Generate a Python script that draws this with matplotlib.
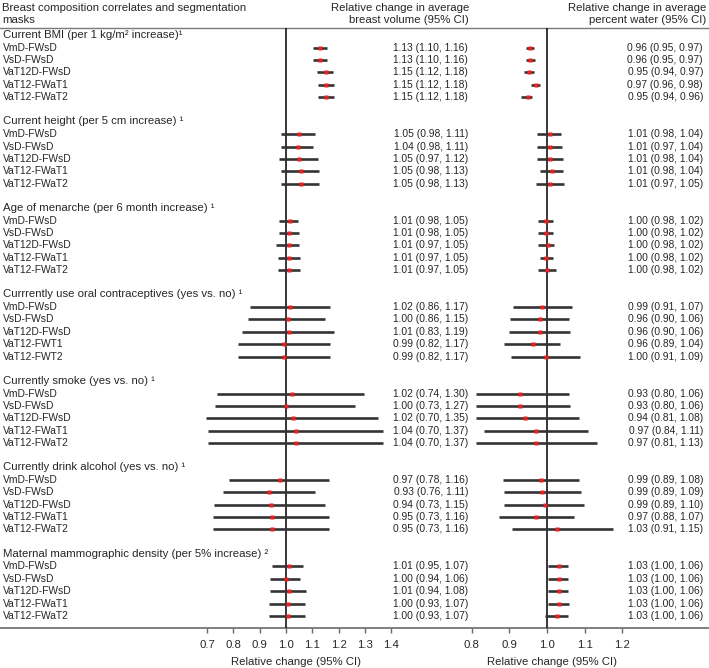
import matplotlib.pyplot as plt

plt.rcParams['font.family'] = ['Liberation Sans', 'DejaVu Sans']

# ---- data ----
groups = [
    'Current BMI (per 1 kg/m\u00b2 increase)\u00b9',
    'Current height (per 5 cm increase) \u00b9',
    'Age of menarche (per 6 month increase) \u00b9',
    'Currrently use oral contraceptives (yes vs. no) \u00b9',
    'Currently smoke (yes vs. no) \u00b9',
    'Currently drink alcohol (yes vs. no) \u00b9',
    'Maternal mammographic density (per 5% increase) \u00b2',
]
masks = ['VmD-FWsD', 'VsD-FWsD', 'VaT12D-FWsD', 'VaT12-FWaT1', 'VaT12-FWaT2']
masks_oc = ['VmD-FWsD', 'VsD-FWsD', 'VaT12D-FWsD', 'VaT12-FWT1', 'VaT12-FWT2']

# breast volume panel (estimate, lower, upper as drawn)
vol_est = [[1.130, 1.130, 1.152, 1.152, 1.152],
           [1.051, 1.046, 1.051, 1.057, 1.057],
           [1.016, 1.010, 1.010, 1.010, 1.010],
           [1.016, 1.006, 1.010, 0.994, 0.994],
           [1.022, 1.000, 1.028, 1.039, 1.039],
           [0.977, 0.937, 0.942, 0.948, 0.948],
           [1.013, 1.000, 1.011, 1.006, 1.006]]
vol_lo = [[1.104, 1.104, 1.116, 1.123, 1.122],
          [0.980, 0.980, 0.975, 0.981, 0.981],
          [0.975, 0.975, 0.963, 0.970, 0.970],
          [0.863, 0.857, 0.834, 0.816, 0.816],
          [0.737, 0.730, 0.697, 0.703, 0.703],
          [0.782, 0.759, 0.728, 0.724, 0.724],
          [0.947, 0.941, 0.941, 0.935, 0.935]]
vol_hi = [[1.156, 1.156, 1.180, 1.184, 1.184],
          [1.110, 1.104, 1.122, 1.127, 1.127],
          [1.047, 1.048, 1.048, 1.053, 1.053],
          [1.166, 1.149, 1.184, 1.166, 1.166],
          [1.297, 1.263, 1.348, 1.370, 1.370],
          [1.162, 1.110, 1.149, 1.162, 1.162],
          [1.065, 1.053, 1.076, 1.071, 1.071]]
vol_text = [['1.13 (1.10, 1.16)', '1.13 (1.10, 1.16)', '1.15 (1.12, 1.18)', '1.15 (1.12, 1.18)', '1.15 (1.12, 1.18)'],
            ['1.05 (0.98, 1.11)', '1.04 (0.98, 1.11)', '1.05 (0.97, 1.12)', '1.05 (0.98, 1.13)', '1.05 (0.98, 1.13)'],
            ['1.01 (0.98, 1.05)', '1.01 (0.98, 1.05)', '1.01 (0.97, 1.05)', '1.01 (0.97, 1.05)', '1.01 (0.97, 1.05)'],
            ['1.02 (0.86, 1.17)', '1.00 (0.86, 1.15)', '1.01 (0.83, 1.19)', '0.99 (0.82, 1.17)', '0.99 (0.82, 1.17)'],
            ['1.02 (0.74, 1.30)', '1.00 (0.73, 1.27)', '1.02 (0.70, 1.35)', '1.04 (0.70, 1.37)', '1.04 (0.70, 1.37)'],
            ['0.97 (0.78, 1.16)', '0.93 (0.76, 1.11)', '0.94 (0.73, 1.15)', '0.95 (0.73, 1.16)', '0.95 (0.73, 1.16)'],
            ['1.01 (0.95, 1.07)', '1.00 (0.94, 1.06)', '1.01 (0.94, 1.08)', '1.00 (0.93, 1.07)', '1.00 (0.93, 1.07)']]

# percent water panel
wat_est = [[0.956, 0.956, 0.953, 0.970, 0.950],
           [1.007, 1.007, 1.007, 1.012, 1.007],
           [0.998, 0.998, 1.002, 0.998, 1.000],
           [0.988, 0.981, 0.981, 0.962, 0.998],
           [0.929, 0.929, 0.942, 0.972, 0.972],
           [0.985, 0.988, 0.996, 0.972, 1.027],
           [1.031, 1.031, 1.031, 1.031, 1.027]]
wat_lo = [[0.945, 0.945, 0.938, 0.958, 0.932],
          [0.973, 0.973, 0.973, 0.981, 0.971],
          [0.977, 0.977, 0.977, 0.981, 0.977],
          [0.909, 0.903, 0.899, 0.886, 0.905],
          [0.812, 0.812, 0.812, 0.832, 0.812],
          [0.883, 0.886, 0.886, 0.873, 0.907],
          [1.002, 1.002, 1.002, 1.002, 0.996]]
wat_hi = [[0.966, 0.968, 0.965, 0.981, 0.960],
          [1.038, 1.040, 1.042, 1.042, 1.046],
          [1.017, 1.016, 1.019, 1.016, 1.023],
          [1.065, 1.058, 1.062, 1.035, 1.088],
          [1.058, 1.062, 1.084, 1.109, 1.133],
          [1.084, 1.091, 1.097, 1.071, 1.175],
          [1.055, 1.055, 1.055, 1.058, 1.055]]
wat_text = [['0.96 (0.95, 0.97)', '0.96 (0.95, 0.97)', '0.95 (0.94, 0.97)', '0.97 (0.96, 0.98)', '0.95 (0.94, 0.96)'],
            ['1.01 (0.98, 1.04)', '1.01 (0.97, 1.04)', '1.01 (0.98, 1.04)', '1.01 (0.98, 1.04)', '1.01 (0.97, 1.05)'],
            ['1.00 (0.98, 1.02)', '1.00 (0.98, 1.02)', '1.00 (0.98, 1.02)', '1.00 (0.98, 1.02)', '1.00 (0.98, 1.02)'],
            ['0.99 (0.91, 1.07)', '0.96 (0.90, 1.06)', '0.96 (0.90, 1.06)', '0.96 (0.89, 1.04)', '1.00 (0.91, 1.09)'],
            ['0.93 (0.80, 1.06)', '0.93 (0.80, 1.06)', '0.94 (0.81, 1.08)', '0.97 (0.84, 1.11)', '0.97 (0.81, 1.13)'],
            ['0.99 (0.89, 1.08)', '0.99 (0.89, 1.09)', '0.99 (0.89, 1.10)', '0.97 (0.88, 1.07)', '1.03 (0.91, 1.15)'],
            ['1.03 (1.00, 1.06)', '1.03 (1.00, 1.06)', '1.03 (1.00, 1.06)', '1.03 (1.00, 1.06)', '1.03 (1.00, 1.06)']]

vol_ticks = [0.7, 0.8, 0.9, 1.0, 1.1, 1.2, 1.3, 1.4]
wat_ticks = [0.8, 0.9, 1.0, 1.1, 1.2]

# ---- layout (pixel based) ----
W, H = 709, 668
TOP, BOT = 28, 628
UNIT = 12.35
TXT = '#262626'
FS_HEAD = 8.2
FS_ROW = 7.4

fig = plt.figure(figsize=(W / 100, H / 100), dpi=100)
bg = fig.add_axes([0, 0, 1, 1])
bg.set_xlim(0, W)
bg.set_ylim(H, 0)
bg.axis('off')


def panel(x0, x1, px_one, px_tenth):
    # axes whose x data maps 1.0 -> px_one, 0.1 -> px_tenth pixels
    lo = 1 - (px_one - x0) / px_tenth * 0.1
    hi = 1 + (x1 - px_one) / px_tenth * 0.1
    ax = fig.add_axes([x0 / W, (H - BOT) / H, (x1 - x0) / W, (BOT - TOP) / H])
    ax.set_xlim(lo, hi)
    ax.set_ylim(BOT, TOP)
    for s in ax.spines.values():
        s.set_visible(False)
    ax.set_yticks([])
    ax.patch.set_alpha(0)
    ax.axvline(1.0, color='black', lw=1.1, zorder=1)
    return ax


ax_v = panel(190, 400, 286, 26.3)
ax_w = panel(462, 640, 547, 37.7)

# header
bg.text(2, 8, 'Breast composition correlates and segmentation', fontsize=FS_HEAD,
        color=TXT, va='center', ha='left')
bg.text(2, 20, 'masks', fontsize=FS_HEAD, color=TXT, va='center', ha='left')
bg.text(469, 8, 'Relative change in average', fontsize=FS_HEAD, color=TXT, va='center', ha='right')
bg.text(469, 20, 'breast volume (95% CI)', fontsize=FS_HEAD, color=TXT, va='center', ha='right')
bg.text(706, 8, 'Relative change in average', fontsize=FS_HEAD, color=TXT, va='center', ha='right')
bg.text(706, 20, 'percent water (95% CI)', fontsize=FS_HEAD, color=TXT, va='center', ha='right')
bg.plot([0, W], [27.5, 27.5], color='#7a7a7a', lw=1.0)
bg.plot([0, W], [BOT, BOT], color='#6a6a6a', lw=1.2)

for g, name in enumerate(groups):
    yh = TOP + (g * 7 + 0.57) * UNIT
    bg.text(3, yh, name, fontsize=FS_HEAD, color=TXT, va='center', ha='left')
    labels = masks_oc if g == 3 else masks
    for i in range(5):
        y = TOP + (g * 7 + 1.6 + i) * UNIT
        bg.text(3, y, labels[i], fontsize=FS_ROW, color=TXT, va='center', ha='left')
        bg.text(468, y, vol_text[g][i], fontsize=FS_ROW, color=TXT, va='center', ha='right')
        bg.text(703, y, wat_text[g][i], fontsize=FS_ROW, color=TXT, va='center', ha='right')
        ax_v.hlines(y, vol_lo[g][i], vol_hi[g][i], color='#333333', lw=1.9, zorder=2)
        ax_v.plot(vol_est[g][i], y, marker='s', ms=3.3, color='#e8201f', mec='none', zorder=3)
        ax_w.hlines(y, wat_lo[g][i], wat_hi[g][i], color='#333333', lw=1.9, zorder=2)
        ax_w.plot(wat_est[g][i], y, marker='s', ms=3.3, color='#e8201f', mec='none', zorder=3)

for ax, ticks in [(ax_v, vol_ticks), (ax_w, wat_ticks)]:
    ax.set_xticks(ticks)
    ax.set_xticklabels(['%.1f' % t for t in ticks])
    ax.tick_params(axis='x', direction='out', length=3.5, width=1.0, color='#6a6a6a',
                   labelsize=FS_HEAD, labelcolor=TXT, pad=5)

bg.text(296, 662, 'Relative change (95% CI)', fontsize=FS_HEAD, color=TXT, va='center', ha='center')
bg.text(552, 662, 'Relative change (95% CI)', fontsize=FS_HEAD, color=TXT, va='center', ha='center')

fig.savefig('out.png', dpi=100)
